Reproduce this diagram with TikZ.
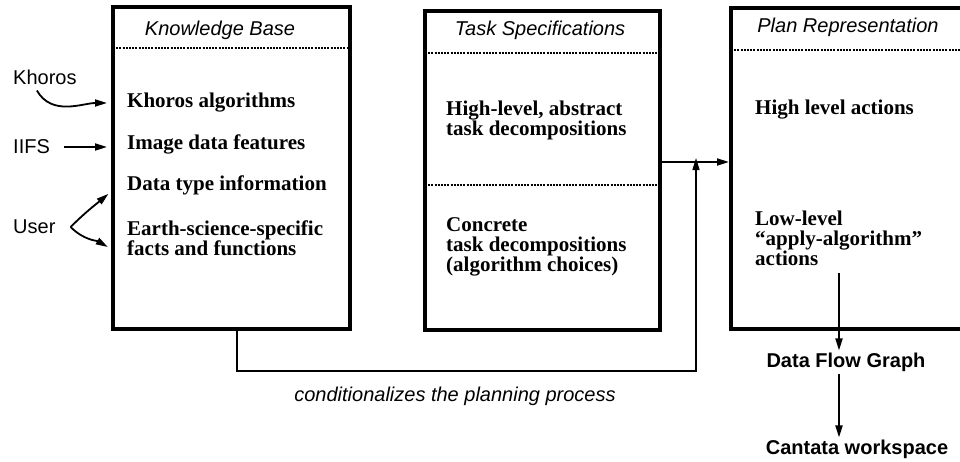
\documentclass[tikz,border=0pt]{standalone}
\usepackage{fontspec}
\setmainfont{Liberation Serif}
\newfontfamily\helv{Liberation Sans}
\usetikzlibrary{arrows.meta,positioning}

\begin{document}
\begin{tikzpicture}[x=1pt, y=-1pt, node distance=87pt,
    panel/.style={draw, line width=4pt, inner sep=0pt, outer sep=0pt},
    divider/.style={line width=2.4pt, dash pattern=on 2pt off 1.2pt},
    head/.style={font=\helv\itshape\fontsize{20}{20}\selectfont},
    entry/.style={anchor=west, align=left, inner sep=0pt, font=\bfseries\fontsize{21}{20}\selectfont},
    source/.style={anchor=west, inner sep=0pt, font=\helv\fontsize{20}{20}\selectfont},
    result/.style={inner sep=2pt, font=\helv\bfseries\fontsize{20}{20}\selectfont},
    conn/.style={-{Triangle[length=12pt,width=7pt]}, line width=1.8pt},
    into/.style={conn, shorten >=6pt}]
  \useasboundingbox (0,0) rectangle (960,461);

  % the three panels
  \node[panel, minimum width=237pt, minimum height=322pt] (kb) at (231.5,168) {};
  \node[panel, minimum width=235pt, minimum height=319pt] (ts) at (542.5,170.5) {};
  \node[panel, minimum width=250pt, minimum height=321pt] (pr) at (856,168.5) {};
  \draw[divider] ([yshift=-41pt]kb.north west) -- ([yshift=-41pt]kb.north east);
  \draw[divider] ([yshift=-42pt]ts.north west) -- ([yshift=-42pt]ts.north east);
  \draw[divider] ([yshift=-174pt]ts.north west) -- ([yshift=-174pt]ts.north east);
  \draw[divider] ([yshift=-42pt]pr.north west) -- ([yshift=-42pt]pr.north east);

  \node[head] (kbh) at (220,30) {Knowledge Base};
  \node[head] (tsh) at (540,30) {Task Specifications};
  \node[head] (prh) at (848,27) {Plan Representation};

  \node[entry] (ka) at (127,103) {Khoros algorithms};
  \node[entry] (im) at (127,144) {Image data features};
  \node[entry] (dt) at (127,185) {Data type information};
  \node[entry] (es) at (127,238) {Earth-science-specific\\facts and functions};

  \node[entry] (hi) at (446,120) {High-level, abstract\\task decompositions};
  \node[entry] (co) at (446,247) {Concrete\\task decompositions\\(algorithm choices)};

  \node[entry] (ha) at (755,110) {High level actions};
  \node[entry] (lo) at (755,238) {Low-level\\“apply-algorithm”\\actions};

  % inputs
  \node[source] (khoros) at (13,77)  {Khoros};
  \node[source] (iifs)   at (13,147) {IIFS};
  \node[source] (user)   at (13,227) {User};
  \draw[into] ([xshift=-8pt,yshift=-6pt]khoros.south) to[out=-60,in=180] (kb.west |- ka);
  \draw[into, shorten <=14pt] (iifs) -- (kb.west |- iifs);
  \draw[into] ([xshift=15pt]user.east) to[out=45,in=220] ([yshift=-5pt]kb.west |- dt);
  \draw[into] ([xshift=15pt]user.east) to[out=-45,in=150] ([yshift=-12pt]kb.west |- es);

  % flow between panels
  \coordinate (merge) at (696,162);
  \coordinate (low) at (237,371);
  \draw[conn, shorten >=2pt] (ts.east |- merge) -- (pr.west |- merge);
  \draw[conn, line width=1.5pt, shorten >=-4pt] (kb.south -| low) -- (low) -| (merge);
  \node[head] (cond) at (455,396) {conditionalizes the planning process};

  % output
  \coordinate (emit) at (839,273);
  \node[result] (dfg) at (846,362) {Data Flow Graph};
  \node[result, below of=dfg, xshift=11pt] (cw) {Cantata workspace};
  \draw[conn] (emit) -- (emit |- dfg.north);
  \draw[conn] (dfg.south -| emit) -- (cw.north -| emit);
\end{tikzpicture}
\end{document}
